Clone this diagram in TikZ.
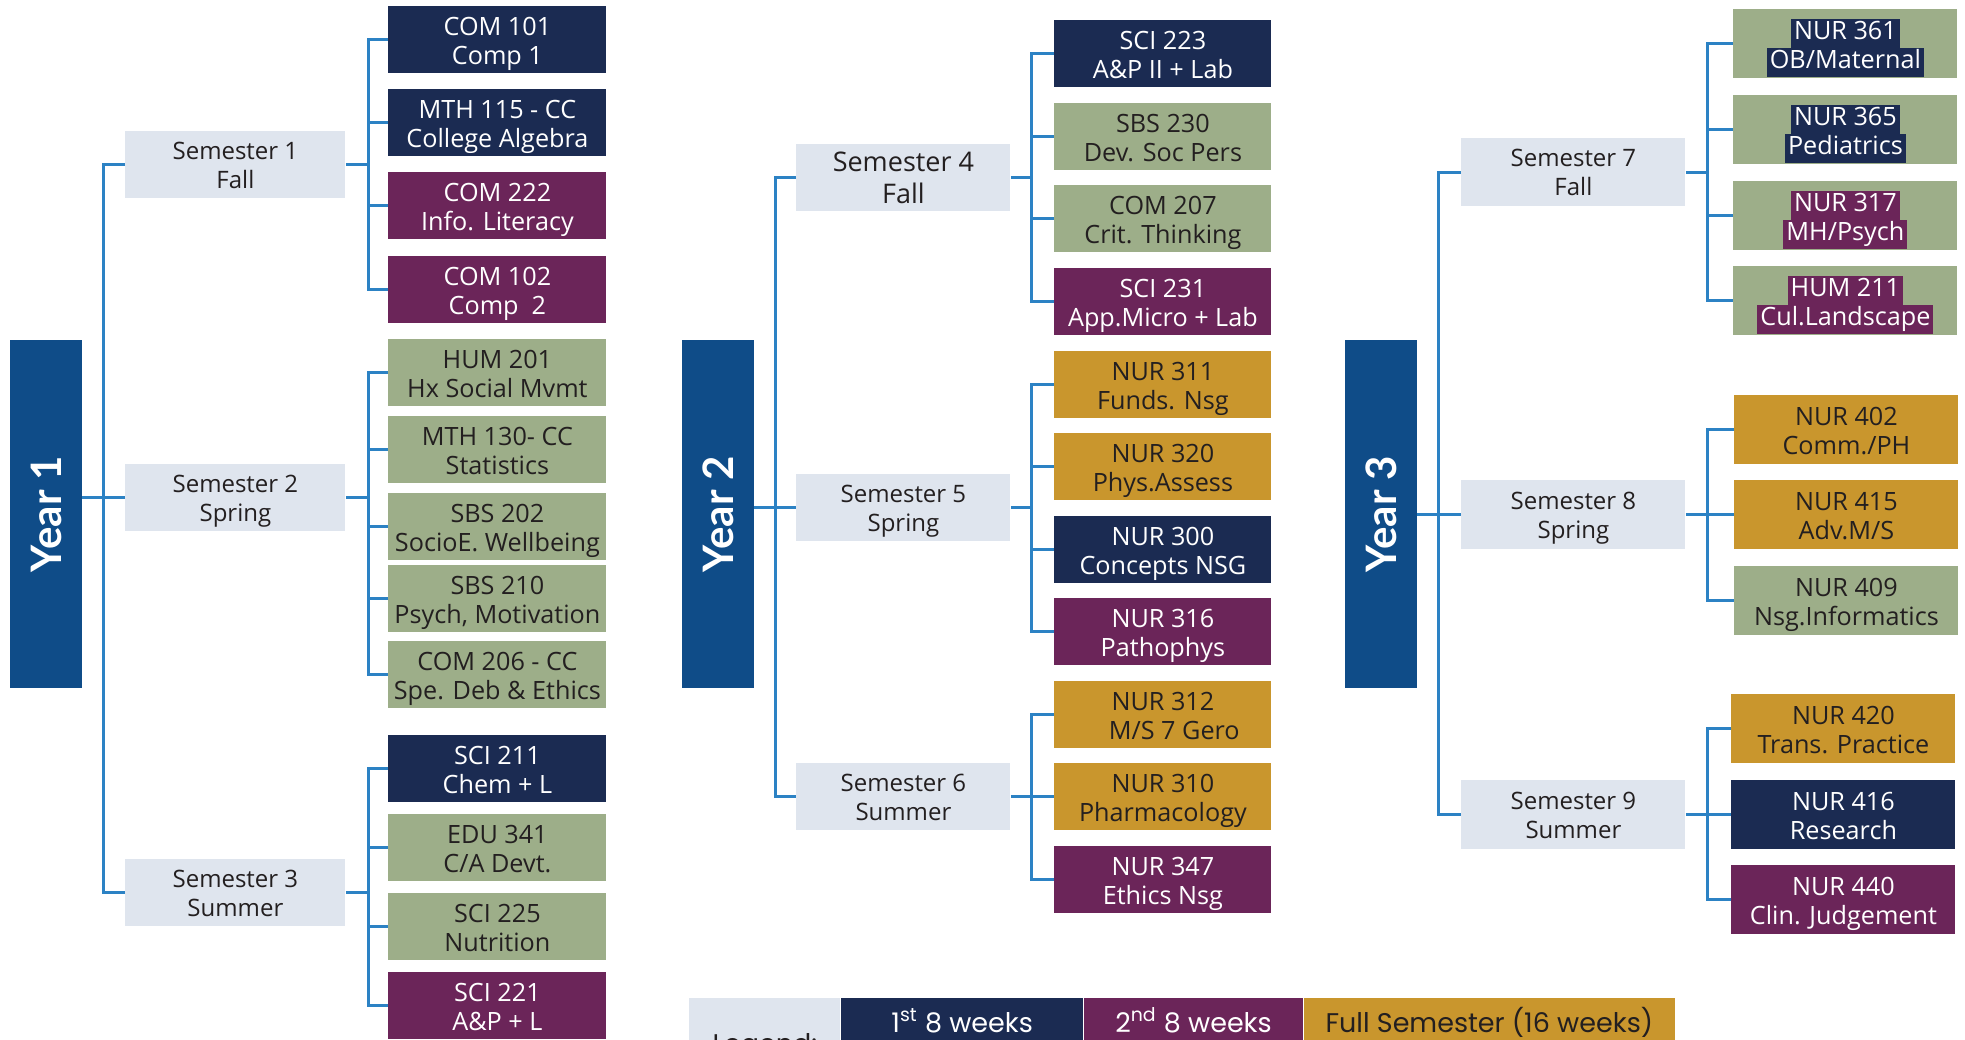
\documentclass[tikz,border=0pt]{standalone}
\usepackage{fontspec}
\setmainfont{Open Sans}
\newfontfamily\yearfont{Lato}
\newfontfamily\legendfont{Poppins}
\definecolor{navyc}{HTML}{1B2B52}
\definecolor{plum}{HTML}{6B2559}
\definecolor{sage}{HTML}{9DAE89}
\definecolor{ochre}{HTML}{C9962D}
\definecolor{semgray}{HTML}{DFE5EE}
\definecolor{yearblue}{HTML}{0F4C88}
\definecolor{linkblue}{HTML}{2C82C4}
\definecolor{ink}{HTML}{231F20}
\newcommand{\hl}[2]{{\setlength{\fboxsep}{0pt}\colorbox{#1}{\strut\kern1.5pt#2\kern1.5pt}}}
\begin{document}
\begin{tikzpicture}[x=0.5pt, y=-0.5pt,
  link/.style={draw=linkblue, line width=1.5pt},
  yearbox/.style={rotate=90, inner sep=0pt, fill=yearblue, text=white, minimum width=174pt, minimum height=36pt, font=\yearfont\bfseries\fontsize{21}{25}\selectfont},
  sembox/.style={anchor=north west, inner sep=0pt, align=center, fill=semgray, text=ink, minimum width=110pt, minimum height=33.5pt, text height=27.5pt, text depth=4pt, font=\fontsize{12}{14.5}\selectfont},
  course/.style={anchor=north west, inner sep=0pt, align=center, minimum width=109pt, minimum height=33.5pt, text height=28.2pt, text depth=4pt, font=\fontsize{12.6}{14.5}\selectfont},
  first/.style={course, fill=navyc, text=white},
  second/.style={course, fill=plum, text=white},
  core/.style={course, fill=sage, text=ink},
  full/.style={course, fill=ochre, text=ink},
  legend/.style={anchor=north west, inner xsep=0pt, inner ysep=7pt, text height=10pt, text depth=30pt, font=\legendfont\fontsize{13.5}{16}\selectfont}
]
\useasboundingbox (0,0) rectangle (1965,1039);
\clip (0,0) rectangle (1965,1039);

% year 1
\node[yearbox] (y1) at (46,514) {Year 1};
\coordinate (t1) at (103,0);
\coordinate (b1) at (368,0);
\node[sembox] (s1) at (125,131) {Semester 1\\Fall};
\node[sembox] (s2) at (125,464) {Semester 2\\Spring};
\node[sembox] (s3) at (125,859) {Semester 3\\Summer};

\node[first] (com101) at (388,6) {COM 101\\Comp 1};
\node[first] (mth115) at (388,89) {MTH 115 - CC\\College Algebra};
\node[second] (com222) at (388,172) {COM 222\\Info. Literacy};
\node[second] (com102) at (388,256) {COM 102\\Comp\ \ 2};

\node[core] (hum201) at (388,339) {HUM 201\\Hx Social Mvmt};
\node[core] (mth130) at (388,416) {MTH 130- CC\\Statistics};
\node[core] (sbs202) at (388,493) {SBS 202\\SocioE. Wellbeing};
\node[core] (sbs210) at (388,565) {SBS 210\\Psych, Motivation};
\node[core] (com206) at (388,641) {COM 206 - CC\\Spe. Deb \& Ethics};

\node[first] (sci211) at (388,735) {SCI 211\\Chem + L};
\node[core] (edu341) at (388,814) {EDU 341\\C/A Devt.};
\node[core] (sci225) at (388,893) {SCI 225\\Nutrition};
\node[second] (sci221) at (388,972) {SCI 221\\A\&P + L};

\draw[link] (y1.south |- s2.west) -- (s2.west);
\draw[link] (s1.west) -| (t1 |- s3.west) -- (s3.west);

\draw[link] (s1.east) -- (s1.east -| b1);
\draw[link] (com101.west) -| (b1 |- com102.west) -- (com102.west);
\foreach \c in {mth115,com222}
  \draw[link] (\c.west) -- (\c.west -| b1);
\draw[link] (s2.east) -- (s2.east -| b1);
\draw[link] (hum201.west) -| (b1 |- com206.west) -- (com206.west);
\foreach \c in {mth130,sbs202,sbs210}
  \draw[link] (\c.west) -- (\c.west -| b1);
\draw[link] (s3.east) -- (s3.east -| b1);
\draw[link] (sci211.west) -| (b1 |- sci221.west) -- (sci221.west);
\foreach \c in {edu341,sci225}
  \draw[link] (\c.west) -- (\c.west -| b1);

% year 2
\node[yearbox] (y2) at (718,514) {Year 2};
\coordinate (t2) at (775,0);
\coordinate (b2) at (1031,0);
\node[sembox, minimum width=107pt, text height=29.5pt, font=\fontsize{13.5}{16}\selectfont] (s4) at (796,144) {Semester 4\\Fall};
\node[sembox, minimum width=107pt] (s5) at (796,474) {Semester 5\\Spring};
\node[sembox, minimum width=107pt] (s6) at (796,763) {Semester 6\\Summer};

\node[first, minimum width=108.5pt] (sci223) at (1054,20) {SCI 223\\A\&P II + Lab};
\node[core, minimum width=108.5pt] (sbs230) at (1054,103) {SBS 230\\Dev. Soc Pers};
\node[core, minimum width=108.5pt] (com207) at (1054,185) {COM 207\\Crit. Thinking};
\node[second, minimum width=108.5pt] (sci231) at (1054,268) {SCI 231\\App.Micro + Lab};

\node[full, minimum width=108.5pt] (nur311) at (1054,351) {NUR 311\\Funds. Nsg};
\node[full, minimum width=108.5pt] (nur320) at (1054,433) {NUR 320\\Phys.Assess};
\node[first, minimum width=108.5pt] (nur300) at (1054,516) {NUR 300\\Concepts NSG};
\node[second, minimum width=108.5pt] (nur316) at (1054,598) {NUR 316\\Pathophys};

\node[full, minimum width=108.5pt] (nur312) at (1054,681) {NUR 312\\\hspace*{0.9em}M/S 7 Gero};
\node[full, minimum width=108.5pt] (nur310) at (1054,763) {NUR 310\\Pharmacology};
\node[second, minimum width=108.5pt] (nur347) at (1054,846) {NUR 347\\Ethics Nsg};

\draw[link] (y2.south |- s5.west) -- (s5.west);
\draw[link] (s4.west) -| (t2 |- s6.west) -- (s6.west);

\draw[link] (s4.east) -- (s4.east -| b2);
\draw[link] (sci223.west) -| (b2 |- sci231.west) -- (sci231.west);
\foreach \c in {sbs230,com207}
  \draw[link] (\c.west) -- (\c.west -| b2);
\draw[link] (s5.east) -- (s5.east -| b2);
\draw[link] (nur311.west) -| (b2 |- nur316.west) -- (nur316.west);
\foreach \c in {nur320,nur300}
  \draw[link] (\c.west) -- (\c.west -| b2);
\draw[link] (s6.east) -- (s6.east -| b2);
\draw[link] (nur312.west) -| (b2 |- nur347.west) -- (nur347.west);
\draw[link] (nur310.west) -- (nur310.west -| b2);

% year 3
\node[yearbox] (y3) at (1381,514) {Year 3};
\coordinate (t3) at (1438,0);
\coordinate (b3) at (1707,0);
\node[sembox, minimum width=112pt, minimum height=34pt] (s7) at (1461,138) {Semester 7\\Fall};
\node[sembox, minimum width=112pt, minimum height=34.5pt] (s8) at (1461,480) {Semester 8\\Spring};
\node[sembox, minimum width=112pt, minimum height=34.5pt] (s9) at (1461,780) {Semester 9\\Summer};

\node[core, text=white, minimum width=112pt, minimum height=34.5pt] (nur361) at (1733,9) {\hl{navyc}{NUR 361}\\\hl{navyc}{OB/Maternal}};
\node[core, text=white, minimum width=112pt, minimum height=34.5pt] (nur365) at (1733,95) {\hl{navyc}{NUR 365}\\\hl{navyc}{Pediatrics}};
\node[core, text=white, minimum width=112pt, minimum height=34.5pt] (nur317) at (1733,181) {\hl{plum}{NUR 317}\\\hl{plum}{MH/Psych}};
\node[core, text=white, minimum width=112pt, minimum height=34.5pt] (hum211) at (1733,266) {\hl{plum}{HUM 211}\\\hl{plum}{Cul.Landscape}};

\node[full, minimum width=112pt, minimum height=34.5pt] (nur402) at (1734,395) {NUR 402\\Comm./PH};
\node[full, minimum width=112pt, minimum height=34.5pt] (nur415) at (1734,480) {NUR 415\\Adv.M/S};
\node[core, minimum width=112pt, minimum height=34.5pt] (nur409) at (1734,566) {NUR 409\\Nsg.Informatics};

\node[full, minimum width=112pt, minimum height=34.5pt] (nur420) at (1731,694) {NUR 420\\Trans. Practice};
\node[first, minimum width=112pt, minimum height=34.5pt] (nur416) at (1731,780) {NUR 416\\Research};
\node[second, minimum width=112pt, minimum height=34.5pt] (nur440) at (1731,865) {NUR 440\\Clin. Judgement};

\draw[link] (y3.south |- s8.west) -- (s8.west);
\draw[link] (s7.west) -| (t3 |- s9.west) -- (s9.west);

\draw[link] (s7.east) -- (s7.east -| b3);
\draw[link] (nur361.west) -| (b3 |- hum211.west) -- (hum211.west);
\foreach \c in {nur365,nur317}
  \draw[link] (\c.west) -- (\c.west -| b3);
\draw[link] (s8.east) -- (s8.east -| b3);
\draw[link] (nur402.west) -| (b3 |- nur409.west) -- (nur409.west);
\draw[link] (nur415.west) -- (nur415.west -| b3);
\draw[link] (s9.east) -- (s9.east -| b3);
\draw[link] (nur420.west) -| (b3 |- nur440.west) -- (nur440.west);
\draw[link] (nur416.west) -- (nur416.west -| b3);

% legend
\node[legend, fill=semgray, text=ink, minimum width=75.5pt, text height=20.5pt, text depth=18pt] (lg0) at (689,998) {Legend:};
\node[legend, fill=navyc, text=white, minimum width=121pt] (lg1) at (lg0.north east) {1\textsuperscript{st} 8 weeks};
\node[legend, fill=plum, text=white, minimum width=109.5pt] (lg2) at (lg1.north east) {2\textsuperscript{nd} 8 weeks};
\node[legend, fill=ochre, text=ink, minimum width=185.5pt] (lg3) at (lg2.north east) {Full Semester (16 weeks)};
\end{tikzpicture}
\end{document}
